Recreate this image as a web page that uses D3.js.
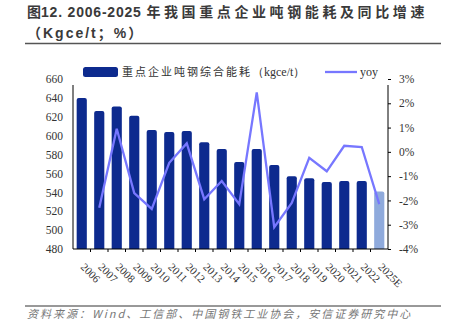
<!DOCTYPE html>
<html><head><meta charset="utf-8">
<script src="https://cdn.jsdelivr.net/npm/d3@7"></script>
<style>
body{margin:0;background:#fff;}
svg{display:block;}
</style></head>
<body>
<svg id="c" width="452" height="327"></svg>
<script>
const years = ["2006","2007","2008","2009","2010","2011","2012","2013","2014","2015","2016","2017","2018","2019","2020","2021","2022","2025E"];
const energy = [640,626,631,621,606,604,605,593,586,572,586,569,557,555,551,552,552,541];
const yoy = [null,-2.3,0.95,-1.7,-2.35,-0.45,0.35,-1.95,-1.2,-2.15,2.45,-3.1,-2.1,-0.25,-0.8,0.25,0.2,-2.15];
const leftTicks = [480,500,520,540,560,580,600,620,640,660];
const rightTicks = [-4,-3,-2,-1,0,1,2,3];

const svg = d3.select("#c");
const L = 73, R = 388, T = 79, B = 249;
const serif = "'Liberation Serif','DejaVu Serif',serif";
const cjk = "'Noto Sans CJK SC',sans-serif";
const sans = "'Liberation Sans','Noto Sans CJK SC',sans-serif";

// title
const t1 = svg.append("text").attr("x",27).attr("y",17).attr("font-family",sans)
  .attr("font-weight","bold").attr("font-size",14).attr("fill","#3a3a3a");
t1.append("tspan").attr("font-family",cjk).text("图");
t1.append("tspan").attr("letter-spacing",0.8).text("12. 2006-2025 ");
t1.append("tspan").attr("font-family",cjk).attr("letter-spacing",3.6).text("年我国重点企业吨钢能耗及同比增速");
svg.append("text").attr("x",27).attr("y",38).attr("font-family",sans)
  .attr("font-weight","bold").attr("font-size",14).attr("fill","#3a3a3a").attr("letter-spacing",2)
  .text("（Kgce/t；%）");
svg.append("line").attr("x1",25).attr("x2",441).attr("y1",43.5).attr("y2",43.5).attr("stroke","#555").attr("stroke-width",1.5);

const x = d3.scaleBand().domain(years).range([L,R]).paddingInner(0.42).paddingOuter(0.21);
const y = d3.scaleLinear().domain([480,660]).range([B,T]);
const y2 = d3.scaleLinear().domain([-4,3]).range([B,T]);

// bars
svg.append("g").selectAll("path").data(years).join("path")
  .attr("d",(d,i)=>{
    const x0=x(d), w=x.bandwidth(), yt=y(energy[i]), r=2;
    return `M${x0},${B}V${yt+r}Q${x0},${yt} ${x0+r},${yt}H${x0+w-r}Q${x0+w},${yt} ${x0+w},${yt+r}V${B}Z`;
  })
  .attr("fill",(d,i)=> d==="2025E" ? "#8faadc" : "#0d2a8e");

// axes
const axL = svg.append("g").attr("transform",`translate(${L},0)`)
  .call(d3.axisLeft(y).tickValues(leftTicks).tickSize(0).tickPadding(10));
axL.select(".domain").attr("stroke","#000").attr("d",`M0,${T+6}V${B}`);
axL.selectAll("text").attr("font-family",serif).attr("font-size",11.5).attr("fill","#333");

const axR = svg.append("g").attr("transform",`translate(${R},0)`)
  .call(d3.axisRight(y2).tickValues(rightTicks).tickSize(3).tickFormat(d=>d+"%").tickPadding(8));
axR.select(".domain").attr("stroke","#000").attr("d",`M0,${T+6}V${B}`);
axR.selectAll("line").attr("stroke","#000");
axR.selectAll("text").attr("font-family",serif).attr("font-size",11.5).attr("fill","#333");

const axB = svg.append("g").attr("transform",`translate(0,${B})`)
  .call(d3.axisBottom(x).tickSize(0).tickPadding(0));
axB.select(".domain").attr("stroke","#000").attr("stroke-width",1.2).attr("d",`M${L},0H${R}`);
axB.selectAll("text").attr("font-family",serif).attr("font-size",11).attr("fill","#333")
  .attr("text-anchor","start").attr("transform","translate(1,16) rotate(45)").attr("dy","0.35em");
// ticks between categories
svg.append("g").selectAll("line").data(d3.range(1,years.length)).join("line")
  .attr("x1",d=>L+(R-L)/years.length*d).attr("x2",d=>L+(R-L)/years.length*d)
  .attr("y1",B).attr("y2",B+3).attr("stroke","#000");

// line
const line = d3.line().defined(d=>d[1]!==null).x(d=>x(d[0])+x.bandwidth()/2).y(d=>y2(d[1]));
svg.append("path").datum(years.map((d,i)=>[d,yoy[i]])).attr("d",line)
  .attr("fill","none").attr("stroke","#7777ff").attr("stroke-width",2.3).attr("stroke-linejoin","miter");

// legend
svg.append("rect").attr("x",83).attr("y",67).attr("width",35).attr("height",10).attr("rx",2.5).attr("fill","#0d2a8e");
const lt = svg.append("text").attr("x",122).attr("y",76).attr("font-size",11).attr("fill","#333");
lt.append("tspan").attr("font-family",cjk).attr("letter-spacing",2).text("重点企业吨钢综合能耗");
lt.append("tspan").attr("font-family",serif).attr("font-size",12).text("（kgce/t）");
svg.append("line").attr("x1",325).attr("x2",357).attr("y1",72).attr("y2",72).attr("stroke","#7777ff").attr("stroke-width",2.3);
svg.append("text").attr("x",360).attr("y",76).attr("font-family",serif).attr("font-size",12).attr("fill","#333").text("yoy");

// source
svg.append("line").attr("x1",25).attr("x2",441).attr("y1",306).attr("y2",306).attr("stroke","#333").attr("stroke-width",1);
svg.append("text").attr("x",27).attr("y",318).attr("font-family",cjk).attr("font-size",11).attr("font-style","italic")
  .attr("letter-spacing",2).attr("fill","#777")
  .text("资料来源：Wind、工信部、中国钢铁工业协会，安信证券研究中心");
</script>
</body></html>
